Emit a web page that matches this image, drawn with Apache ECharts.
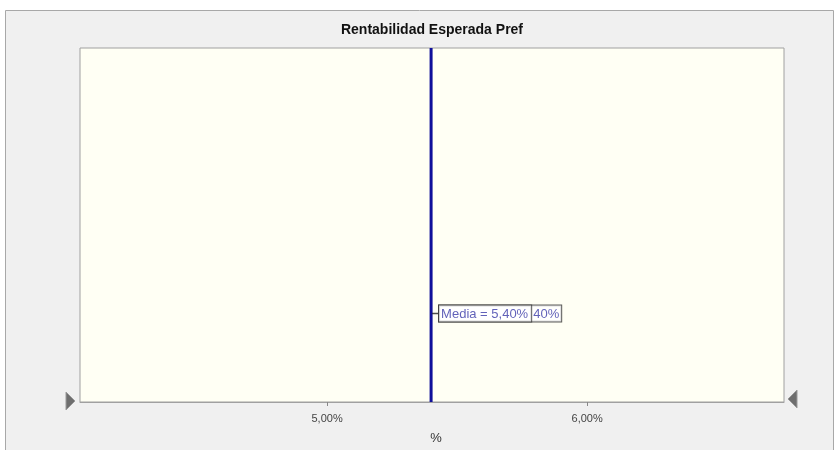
<!DOCTYPE html>
<html>
<head>
<meta charset="utf-8">
<script src="https://cdn.jsdelivr.net/npm/echarts@6/dist/echarts.min.js"></script>
<style>
  html, body { margin: 0; padding: 0; background: #ffffff; }
  #chart { width: 837px; height: 450px; }
</style>
</head>
<body>
<div id="chart"></div>
<script>
// Chart data
const titleText = 'Rentabilidad Esperada Pref';
const axisName = '%';
const xRange = [4.05, 6.757];
const tickValues = [5, 6];
const meanValue = [5.40];
const meanLabelY = [0.25];

const fmt = v => v.toFixed(2).replace('.', ',') + '%';

const chart = echarts.init(document.getElementById('chart'), null, { renderer: 'canvas' });

const option = {
  backgroundColor: '#ffffff',
  animation: false,
  graphic: [
    {
      type: 'rect', z: -10, silent: true,
      shape: { x: 5.5, y: 10.5, width: 828, height: 450 },
      style: { fill: '#f0f0f0', stroke: '#a8a8a8', lineWidth: 1 }
    },
    {
      type: 'polygon', silent: true,
      shape: { points: [[66, 392], [75, 401], [66, 410]] },
      style: { fill: '#6e6e6e', stroke: '#9a9a9a', lineWidth: 1 }
    },
    {
      type: 'polygon', silent: true,
      shape: { points: [[797, 390], [788, 399], [797, 408]] },
      style: { fill: '#6e6e6e', stroke: '#9a9a9a', lineWidth: 1 }
    }
  ],
  title: {
    text: titleText,
    left: 427, top: 18, textAlign: 'center',
    textStyle: { fontFamily: 'Liberation Sans', fontSize: 14, fontWeight: 'bold', color: '#111' }
  },
  grid: {
    left: 80, right: 53, top: 48, bottom: 48,
    outerBoundsMode: 'none', containLabel: false,
    show: true, backgroundColor: '#fffff4', borderColor: '#a0a0a0', borderWidth: 1
  },
  xAxis: {
    type: 'value',
    min: xRange[0], max: xRange[1],
    name: axisName, nameLocation: 'middle', nameGap: 30,
    nameTextStyle: { fontFamily: 'Liberation Sans', fontSize: 13, color: '#333', padding: [0, 0, 0, 8] },
    axisLine: { show: true, lineStyle: { color: '#a0a0a0' } },
    axisTick: { show: true, length: 4, inside: false, customValues: tickValues, lineStyle: { color: '#888' } },
    axisLabel: {
      customValues: tickValues, formatter: fmt, margin: 11,
      fontFamily: 'Liberation Sans', fontSize: 11, color: '#444'
    },
    splitLine: { show: false }
  },
  yAxis: {
    type: 'value', min: 0, max: 1, show: false, splitLine: { show: false }
  },
  series: [
    {
      type: 'line',
      data: [[meanValue[0], 0], [meanValue[0], 1]],
      showSymbol: false, symbol: 'none',
      lineStyle: { color: '#10109a', width: 3 },
      z: 3
    },
    {
      type: 'scatter',
      data: [[meanValue[0], meanLabelY[0]]],
      symbol: 'rect', symbolSize: [6, 1.5], symbolOffset: [4, 0],
      itemStyle: { color: '#222' },
      z: 4,
      label: {
        show: true, position: 'right', distance: 1,
        formatter: () => '{a|Media = ' + fmt(meanValue[0]) + '}{b|' + fmt(meanValue[0]).slice(-3) + '}',
        borderColor: '#333', borderWidth: 1, padding: [0, 1, 0, 0],
        backgroundColor: '#ffffff',
        rich: {
          a: {
            fontFamily: 'Liberation Sans', fontSize: 13, color: '#3a3aa8',
            borderColor: '#333', borderWidth: 1, padding: [2, 3, 1, 2], backgroundColor: '#ffffff'
          },
          b: {
            fontFamily: 'Liberation Sans', fontSize: 13, color: '#3a3aa8',
            padding: [2, 1, 1, 2]
          }
        }
      }
    }
  ]
};

chart.setOption(option);
</script>
</body>
</html>
